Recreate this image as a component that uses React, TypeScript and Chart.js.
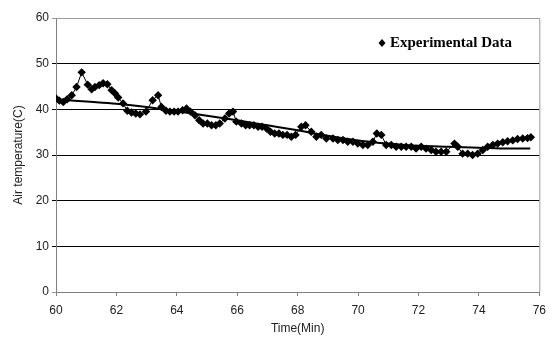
import React, { useEffect, useRef } from "react";
import { Chart, registerables } from "chart.js";

Chart.register(...registerables);

const times: number[] = [
  60.0, 60.11, 60.24, 60.37, 60.52, 60.68, 60.85, 61.05, 61.18, 61.29, 61.43, 61.56, 61.7, 61.84, 61.95,
  62.06, 62.22, 62.36, 62.5, 62.64, 62.78, 62.98, 63.2, 63.38, 63.49, 63.64, 63.77, 63.91, 64.04, 64.19,
  64.32, 64.45, 64.6, 64.74, 64.87, 65.01, 65.15, 65.29, 65.42, 65.59, 65.73, 65.86, 65.97, 66.14, 66.28,
  66.41, 66.55, 66.69, 66.82, 66.97, 67.1, 67.24, 67.38, 67.51, 67.65, 67.79, 67.93, 68.12, 68.26, 68.45,
  68.62, 68.78, 68.95, 69.17, 69.33, 69.5, 69.66, 69.83, 69.99, 70.16, 70.32, 70.49, 70.62, 70.77, 70.93,
  71.1, 71.26, 71.43, 71.59, 71.76, 71.92, 72.09, 72.25, 72.42, 72.58, 72.75, 72.92, 73.19, 73.3, 73.46,
  73.63, 73.79, 73.96, 74.13, 74.29, 74.46, 74.62, 74.79, 74.95, 75.12, 75.28, 75.45, 75.61, 75.72,
];

const temps: number[] = [
  42.4, 41.9, 41.6, 42.2, 43.1, 44.9, 48.1, 45.4, 44.4, 44.9, 45.3, 45.7, 45.5, 44.2, 43.5,
  42.6, 41.3, 39.7, 39.3, 39.1, 38.9, 39.5, 42.0, 43.1, 40.5, 39.7, 39.5, 39.5, 39.5, 39.8,
  40.2, 39.5, 38.7, 37.6, 36.9, 36.9, 36.5, 36.5, 36.9, 38.0, 39.1, 39.5, 37.3, 36.9, 36.5,
  36.5, 36.5, 36.2, 36.2, 35.8, 35.1, 34.7, 34.7, 34.4, 34.4, 34.0, 34.4, 36.2, 36.5, 35.1,
  34.0, 34.4, 33.6, 33.6, 33.3, 33.3, 32.9, 32.9, 32.5, 32.2, 32.2, 32.9, 34.7, 34.4, 32.2,
  32.2, 31.8, 31.8, 31.8, 31.8, 31.4, 31.8, 31.4, 31.1, 30.7, 30.7, 30.7, 32.5, 31.8, 30.3,
  30.3, 30.0, 30.3, 31.1, 31.8, 32.2, 32.5, 32.8, 33.0, 33.2, 33.5, 33.6, 33.7, 33.9,
];

const trendTimes: number[] = [60, 61, 62, 63, 64, 65, 66, 67, 68, 69, 70, 71, 72, 73, 74, 75, 75.7];
const trendTemps: number[] = [42.2, 41.7, 41.2, 40.5, 39.6, 38.6, 37.6, 36.5, 35.4, 34.2, 33.2, 32.5, 32.0, 31.8, 31.6, 31.4, 31.4];

const seriesLabel = "Experimental Data";
const xTitle = "Time(Min)";
const yTitle = "Air temperature(C)";

const legendPlugin = {
  id: "customLegend",
  afterDraw(chart: any) {
    const ctx = chart.ctx;
    const x = 382;
    const y = 43;
    ctx.save();
    ctx.fillStyle = "#000";
    ctx.beginPath();
    ctx.moveTo(x, y - 4);
    ctx.lineTo(x + 3.5, y);
    ctx.lineTo(x, y + 4);
    ctx.lineTo(x - 3.5, y);
    ctx.closePath();
    ctx.fill();
    ctx.font = "bold 15px 'Liberation Serif', serif";
    ctx.textBaseline = "middle";
    ctx.textAlign = "left";
    ctx.fillText(seriesLabel, x + 8, y);
    ctx.restore();
  },
};

const borderPlugin = {
  id: "areaBorder",
  afterDraw(chart: any) {
    const { ctx, chartArea } = chart;
    ctx.save();
    ctx.strokeStyle = "#9a9a9a";
    ctx.lineWidth = 1;
    ctx.beginPath();
    ctx.moveTo(chartArea.left, chartArea.top + 0.5);
    ctx.lineTo(chartArea.right + 0.5, chartArea.top + 0.5);
    ctx.lineTo(chartArea.right + 0.5, chartArea.bottom);
    ctx.stroke();
    ctx.restore();
  },
};

export default function App() {
  const ref = useRef<HTMLCanvasElement>(null);
  useEffect(() => {
    if (!ref.current) return;
    const chart = new Chart(ref.current, {
      type: "line",
      data: {
        datasets: [
          {
            label: seriesLabel,
            data: times.map((t, i) => ({ x: t, y: temps[i] })),
            borderColor: "#000",
            backgroundColor: "#000",
            borderWidth: 1,
            pointStyle: "rectRot",
            pointRadius: 4.2,
            pointBackgroundColor: "#000",
            pointBorderColor: "#000",
            pointBorderWidth: 0,
          },
          {
            label: "Trend",
            data: trendTimes.map((t, i) => ({ x: t, y: trendTemps[i] })),
            borderColor: "#000",
            borderWidth: 2,
            pointRadius: 0,
            cubicInterpolationMode: "monotone",
          },
        ],
      },
      options: {
        animation: false,
        responsive: false,
        maintainAspectRatio: false,
        layout: { padding: { left: 0, top: 18, right: 13, bottom: 0 } },
        plugins: { legend: { display: false }, tooltip: { enabled: false } },
        scales: {
          x: {
            type: "linear",
            min: 60,
            max: 76,
            ticks: {
              stepSize: 2,
              color: "#222",
              font: { family: "'Liberation Sans', Arial, sans-serif", size: 12 },
              padding: 7,
              maxRotation: 0,
            },
            grid: { drawOnChartArea: false, drawTicks: true, tickLength: 4, color: "#808080" },
            border: { color: "#808080", width: 1 },
            title: {
              display: true,
              text: xTitle,
              color: "#222",
              font: { family: "'Liberation Sans', Arial, sans-serif", size: 12 },
              padding: { top: 7, bottom: 4 },
            },
            afterFit(scale: any) {
              scale.height = 48;
            },
          },
          y: {
            min: 0,
            max: 60,
            ticks: {
              stepSize: 10,
              color: "#222",
              font: { family: "'Liberation Sans', Arial, sans-serif", size: 12 },
              padding: 3,
            },
            grid: {
              tickLength: 4,
              color: (c: any) => (c.tick && (c.tick.value === 0 || c.tick.value === 60) ? "#9a9a9a" : "#000"),
            },
            border: { color: "#808080", width: 1 },
            title: {
              display: true,
              text: yTitle,
              color: "#222",
              font: { family: "'Liberation Sans', Arial, sans-serif", size: 12 },
              padding: { top: 11, bottom: 0 },
            },
            afterFit(scale: any) {
              scale.width = 56;
            },
          },
        },
      },
      plugins: [legendPlugin, borderPlugin],
    });
    return () => chart.destroy();
  }, []);
  return (
    <div style={{ position: "fixed", left: 0, top: 0, width: 553, height: 340, background: "#fff" }}>
      <canvas ref={ref} width={553} height={340} style={{ width: 553, height: 340 }} />
    </div>
  );
}
